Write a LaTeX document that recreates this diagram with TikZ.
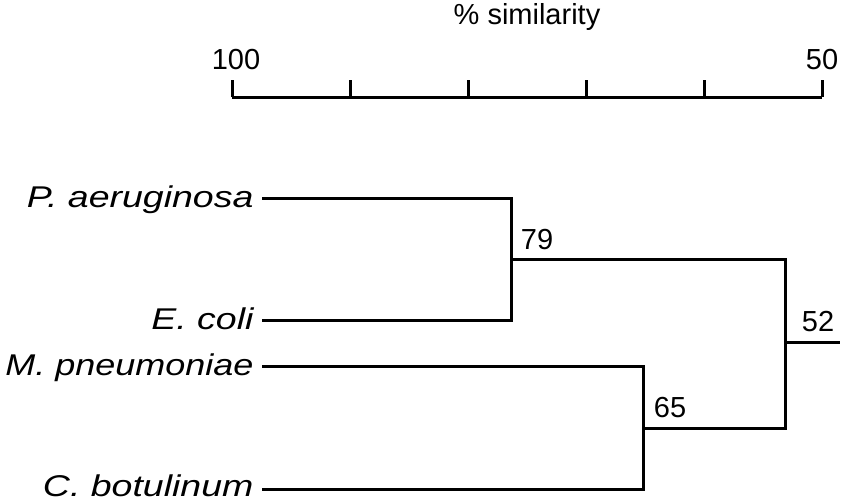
\documentclass[tikz,border=0pt]{standalone}
\usepackage{fontspec}
\setmainfont{Liberation Sans}
\begin{document}
\begin{tikzpicture}[x=1pt,y=-1pt,line width=3pt,
  num/.style={font=\fontsize{29}{31}\selectfont,inner sep=0pt},
  sp/.style={font=\fontsize{30}{32}\selectfont\itshape,inner sep=0pt,anchor=base east}]
\useasboundingbox (0,0) rectangle (843,501);
\node[num] (title) at (527,17) {\% similarity};
\node[num] (l100) at (236,60) {100};
\node[num] (l50) at (822,60) {50};
\coordinate (a0) at (232,97); \coordinate (a5) at (822,97);
\draw (a0) -- (a5);
\foreach \x in {232,350,468,586,704,822} \draw (\x,97) -- (\x,80);
\node[sp] (pa) at (255,207) {\scalebox{1.25}[1]{P. aeruginosa}};
\node[sp] (ec) at (255,329) {\scalebox{1.25}[1]{E. coli}};
\node[sp] (mp) at (255,375) {\scalebox{1.2}[1]{M. pneumoniae}};
\node[sp] (cb) at (255,496) {\scalebox{1.25}[1]{C. botulinum}};
\coordinate (n79) at (511,259); \coordinate (n65) at (643,428); \coordinate (n52) at (785,342);
\draw (262,198) -| (n79) |- (262,320);
\draw (262,366) -| (n65) |- (262,489);
\draw (n79) -| (n52) |- (n65);
\draw (n52) -- (840,342);
\node[num] (t79) at (537,240) {79};
\node[num] (t65) at (670,408) {65};
\node[num] (t52) at (818,322) {52};
\end{tikzpicture}
\end{document}
